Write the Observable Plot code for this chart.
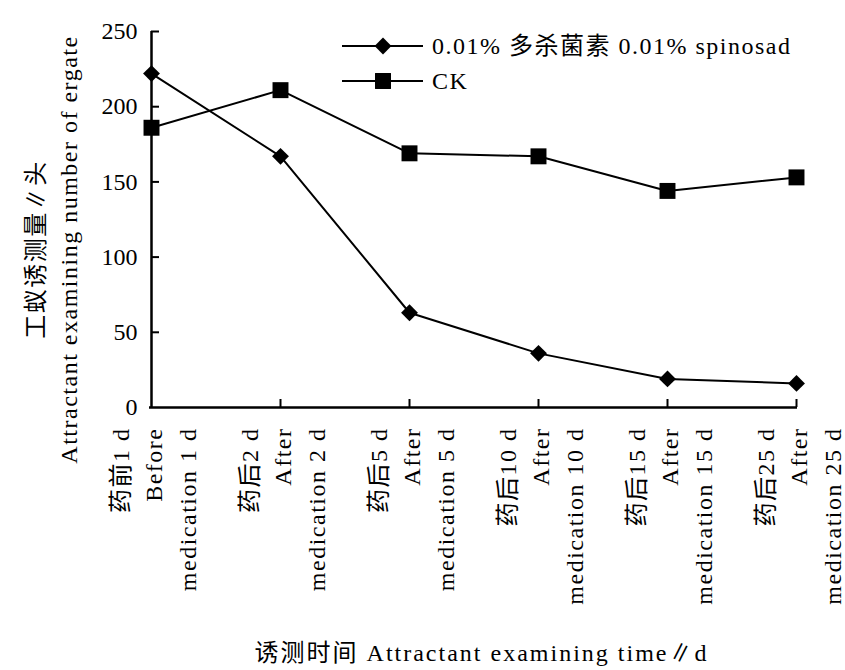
<!DOCTYPE html>
<html>
<head>
<meta charset="utf-8">
<script src="https://cdn.jsdelivr.net/npm/d3@7"></script>
<script src="https://cdn.jsdelivr.net/npm/@observablehq/plot@0.6"></script>
<style>
  body { margin: 0; background: #fff; }
  #chart svg text { font-family: "Liberation Serif", "Noto Sans CJK SC", serif; }
</style>
</head>
<body>
<div id="chart"></div>
<script>
// ---- data ----
const catZh = ["药前1 d", "药后2 d", "药后5 d", "药后10 d", "药后15 d", "药后25 d"];
const catEn1 = ["Before", "After", "After", "After", "After", "After"];
const catEn2 = ["medication 1 d", "medication 2 d", "medication 5 d", "medication 10 d", "medication 15 d", "medication 25 d"];
const spinosad = [222, 167, 63, 36, 19, 16];
const ck = [186, 211, 169, 167, 144, 153];
const yTicks = [0, 50, 100, 150, 200, 250];
const seriesNames = ["0.01% 多杀菌素 0.01% spinosad", "CK"];
const yTitle = "工蚁诱测量∥头\nAttractant examining number of ergate";
const xTitle = "诱测时间 Attractant examining time∥d";

const categories = catZh.map((z, i) => `${z}\n${catEn1[i]}\n${catEn2[i]}`);
const rowsS = categories.map((c, i) => ({cat: c, value: spinosad[i]}));
const rowsC = categories.map((c, i) => ({cat: c, value: ck[i]}));

const FONT = '"Liberation Serif", "Noto Sans CJK SC", serif';

const chart = Plot.plot({
  width: 845,
  height: 670,
  marginLeft: 149,
  marginRight: 48,
  marginTop: 31,
  marginBottom: 263,
  style: {fontFamily: FONT, fontSize: "24px", color: "#000", background: "#fff"},
  x: {type: "point", domain: categories, padding: 0, axis: null},
  y: {domain: [0, 250]},
  marks: [
    // frame lines
    Plot.ruleX([categories[0]], {stroke: "#000", strokeWidth: 2.5}),
    Plot.ruleY([0], {stroke: "#000", strokeWidth: 2.5}),
    // inward ticks
    Plot.ruleY(yTicks.slice(1), {y: d => d, x1: () => categories[0], x2: () => categories[0], insetRight: -8, stroke: "#000", strokeWidth: 2}),
    Plot.ruleX(categories.slice(1), {x: d => d, y1: () => 0, y2: () => 0, insetTop: -8, stroke: "#000", strokeWidth: 2}),
    Plot.axisY({ticks: yTicks, tickSize: 0, tickPadding: 12, label: null, fontSize: 24, tickFormat: d => String(d)}),
    // category labels
    Plot.text(categories, {x: d => d, text: d => d, frameAnchor: "bottom", dy: 20, rotate: -90,
      textAnchor: "end", lineAnchor: "middle", lineHeight: 1.4, fontSize: 24, fill: "#000"}),
    // axis titles
    Plot.text([yTitle], {text: d => d, frameAnchor: "left", dx: -100, dy: 30, rotate: -90,
      textAnchor: "middle", lineAnchor: "middle", lineHeight: 1.38, fontSize: 24, fill: "#000"}),
    Plot.text([xTitle], {text: d => d, frameAnchor: "bottom", dx: 8, dy: 246,
      textAnchor: "middle", lineAnchor: "middle", fontSize: 24, fill: "#000"}),
    // series
    Plot.line(rowsS, {x: "cat", y: "value", stroke: "#000", strokeWidth: 2}),
    Plot.line(rowsC, {x: "cat", y: "value", stroke: "#000", strokeWidth: 2}),
    Plot.dot(rowsS, {x: "cat", y: "value", symbol: "diamond2", r: 7.6, fill: "#000", stroke: "none"}),
    Plot.dot(rowsC, {x: "cat", y: "value", symbol: "square", r: 9, fill: "#000", stroke: "none"})
  ]
});

document.getElementById("chart").appendChild(chart);

// letter spacing to mimic the half-width monospace look of the original labels
const svg = d3.select(chart);
svg.selectAll('g[aria-label="text"]').style("letter-spacing", "1.5px");
svg.selectAll('g[aria-label="text"]').filter((d, i, n) => n[i].textContent.startsWith("诱测时间")).style("letter-spacing", "2px");

// legend (top-right inside plot)
const legend = svg.append("g").attr("aria-label", "legend");
const symbols = [d3.symbol(d3.symbolDiamond2, Math.PI * 7.6 * 7.6), d3.symbol(d3.symbolSquare, Math.PI * 9 * 9)];
seriesNames.forEach((name, i) => {
  const yy = 46 + i * 35;
  const g = legend.append("g");
  g.append("line").attr("x1", 342).attr("x2", 423).attr("y1", yy).attr("y2", yy)
    .attr("stroke", "#000").attr("stroke-width", 2);
  g.append("path").attr("d", symbols[i]()).attr("transform", `translate(383,${yy})`).attr("fill", "#000");
  g.append("text").attr("x", 432).attr("y", yy).attr("dy", "0.35em")
    .attr("text-anchor", "start")
    .attr("font-size", 24).attr("fill", "#000").style("letter-spacing", "1.5px").text(name);
});
</script>
</body>
</html>
